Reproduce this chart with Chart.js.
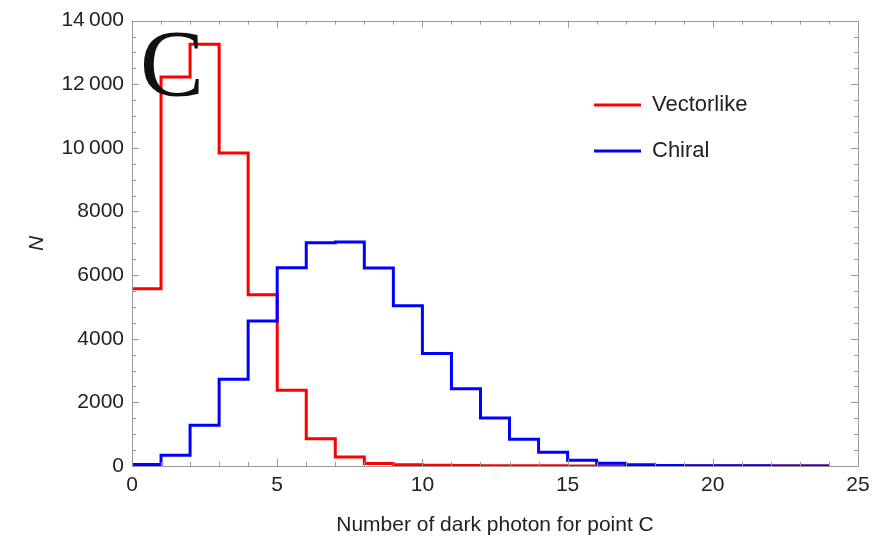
<!DOCTYPE html>
<html>
<head>
<meta charset="utf-8">
<script src="https://cdn.jsdelivr.net/npm/chart.js@4.4.1/dist/chart.umd.min.js"></script>
<style>
html,body{margin:0;padding:0;background:#fff;}
canvas{display:block;}
</style>
</head>
<body>
<canvas id="c" width="881" height="539" style="width:881px;height:539px"></canvas>
<script>
// Bin left edges (number of dark photons), one bin per integer
const binEdges = [0,1,2,3,4,5,6,7,8,9,10,11,12,13,14,15,16,17,18,19,20,21,22,23];
const lastEdge = 24;
// Counts per bin
const vectorlike = [5570,12230,13260,9840,5380,2380,860,280,80,40,20,12,8,5,4,3,2,2,1,1,0,0,0,0];
const chiral = [50,340,1280,2730,4560,6230,7020,7040,6220,5040,3540,2430,1510,840,430,180,90,40,15,10,5,4,3,2];
const seriesNames = ['Vectorlike','Chiral'];
const seriesColors = ['#ff0000','#0000ff'];
const xTicks = [0,5,10,15,20,25];
const yTicks = [0,2000,4000,6000,8000,10000,12000,14000];
const panelLabel = 'C';
const xTitle = 'Number of dark photon for point C';
const yTitle = 'N';

function toSteps(vals){
  const pts = binEdges.map((e,i)=>({x:e,y:vals[i]}));
  pts.push({x:lastEdge,y:vals[vals.length-1]});
  return pts;
}
function fmt(v){
  if (v >= 10000){ const s = String(v); return s.slice(0, s.length-3) + '\u2009' + s.slice(-3); }
  return String(v);
}

const FONT = "'Liberation Sans', Arial, sans-serif";
const TXT = '#222222';
const FRAME = '#999999';

const framePlugin = {
  id:'frame',
  afterDatasetsDraw(chart){
    const {ctx, chartArea:a, scales:{x,y}} = chart;
    ctx.save();
    ctx.strokeStyle = FRAME;
    ctx.lineWidth = 1;
    ctx.beginPath();
    ctx.rect(Math.round(a.left)+0.5, Math.round(a.top)+0.5, Math.round(a.right-a.left), Math.round(a.bottom-a.top));
    ctx.stroke();
    ctx.beginPath();
    for (let v=0; v<=25; v+=1){
      const px = Math.round(x.getPixelForValue(v))+0.5;
      const L = (v%5===0)?7:4;
      ctx.moveTo(px,a.bottom); ctx.lineTo(px,a.bottom-L);
      ctx.moveTo(px,a.top); ctx.lineTo(px,a.top+L);
    }
    for (let v=0; v<=14000; v+=500){
      const py = Math.round(y.getPixelForValue(v))+0.5;
      const L = (v%2000===0)?7:4;
      ctx.moveTo(a.left,py); ctx.lineTo(a.left+L,py);
      ctx.moveTo(a.right,py); ctx.lineTo(a.right-L,py);
    }
    ctx.stroke();
    ctx.restore();
  },
  afterDraw(chart){
    const {ctx} = chart;
    ctx.save();
    // panel label
    ctx.fillStyle = '#111';
    ctx.font = "96px 'Liberation Serif', 'DejaVu Serif', serif";
    ctx.textAlign = 'left';
    ctx.textBaseline = 'alphabetic';
    ctx.fillText(panelLabel, 140, 96);
    // legend
    const items = [{y:105},{y:151}];
    ctx.font = "22px " + FONT;
    ctx.textBaseline = 'middle';
    chart.data.datasets.forEach((ds,i)=>{
      const yy = items[i].y;
      ctx.strokeStyle = ds.borderColor;
      ctx.lineWidth = 3;
      ctx.beginPath(); ctx.moveTo(594,yy); ctx.lineTo(641,yy); ctx.stroke();
      ctx.fillStyle = TXT;
      ctx.fillText(ds.label, 652, yy);
    });
    ctx.restore();
  }
};

new Chart(document.getElementById('c'), {
  type:'line',
  data:{
    datasets:[
      {label:seriesNames[0], data:toSteps(vectorlike), borderColor:seriesColors[0], borderWidth:3, stepped:true, pointRadius:0, fill:false, order:2},
      {label:seriesNames[1], data:toSteps(chiral), borderColor:seriesColors[1], borderWidth:3, stepped:true, pointRadius:0, fill:false, order:1}
    ]
  },
  options:{
    responsive:false,
    animation:false,
    devicePixelRatio:1,
    layout:{padding:{top:19,right:23,left:0,bottom:0}},
    plugins:{legend:{display:false}, tooltip:{enabled:false}},
    scales:{
      x:{
        type:'linear', min:0, max:25,
        afterBuildTicks(s){ s.ticks = xTicks.map(v=>({value:v})); },
        afterFit(s){ s.height = 73; },
        grid:{display:false, drawTicks:false},
        border:{display:false},
        ticks:{font:{family:FONT,size:21}, color:TXT, padding:7, maxRotation:0, callback:v=>fmt(v)},
        title:{display:true, text:xTitle, font:{family:FONT,size:21}, color:TXT, padding:{top:0,bottom:1}}
      },
      y:{
        type:'linear', min:0, max:14000,
        afterBuildTicks(s){ s.ticks = yTicks.map(v=>({value:v})); },
        afterFit(s){ s.width = 132; },
        grid:{display:false, drawTicks:false},
        border:{display:false},
        ticks:{font:{family:FONT,size:21}, color:TXT, padding:8, callback:v=>fmt(v)},
        title:{display:true, text:yTitle, font:{family:FONT,size:21,style:'italic'}, color:TXT, padding:{top:25,bottom:0}}
      }
    }
  },
  plugins:[framePlugin]
});
</script>
</body>
</html>
